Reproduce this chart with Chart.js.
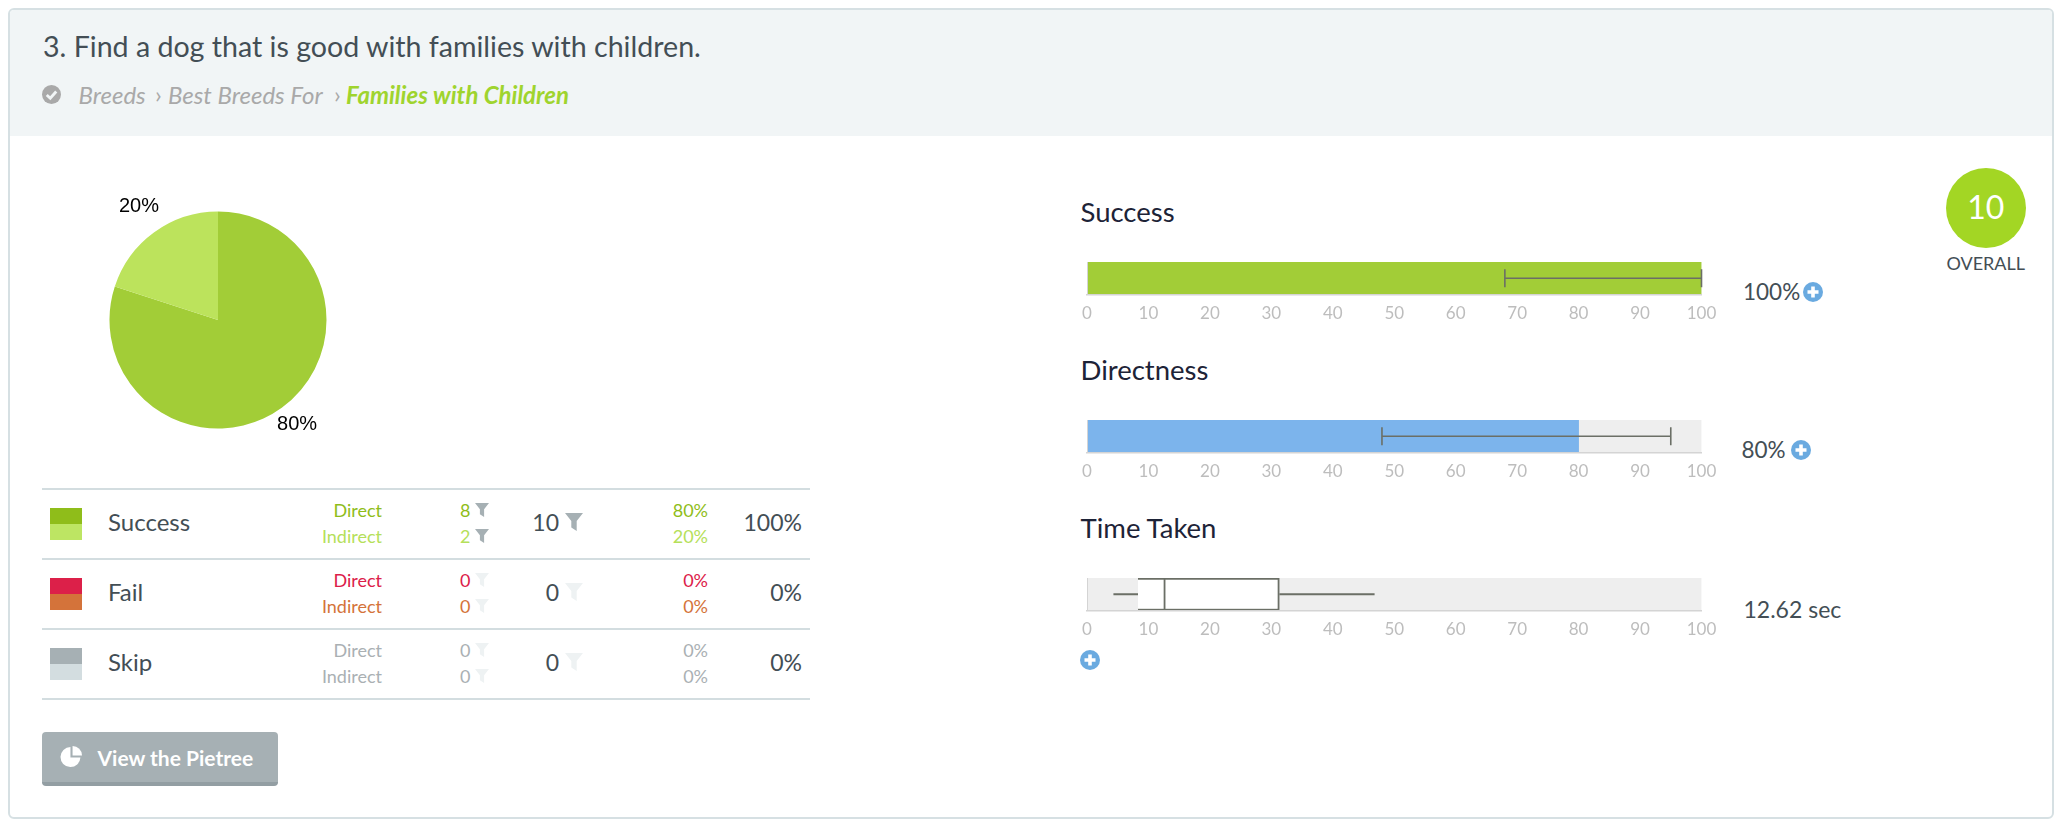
<!DOCTYPE html>
<html>
<head>
<meta charset="utf-8">
<title>Task 3</title>
<script src="https://cdn.jsdelivr.net/npm/chart.js@4"></script>
<style>
  html, body { margin: 0; padding: 0; background: #fff; overflow: hidden; }
  body { width: 2068px; height: 828px; position: relative; font-family: Lato, sans-serif; color: #434e55; }
  .card { position: absolute; left: 8px; top: 8px; width: 2046px; height: 811px; border: 2px solid #d6e0e3; border-radius: 6px; box-sizing: border-box; overflow: hidden; }
  .head { position: absolute; left: 0; top: 0; right: 0; height: 126px; background: #f1f5f6; }
  .t { position: absolute; white-space: nowrap; line-height: 1; transform: translateY(-50%); }
  .r { transform: translate(-100%, -50%); }
  .c { transform: translate(-50%, -50%); }
  .rule { position: absolute; left: 42px; width: 768px; height: 2px; background: #d3dde0; }
  .sw { position: absolute; left: 50px; width: 32px; height: 16px; }
  canvas { position: absolute; }
  svg { position: absolute; overflow: visible; }
  .btn { position: absolute; left: 42px; top: 732px; width: 236px; height: 54px; background: #a6b0b4; border-bottom: 4px solid #939ea3; border-radius: 4px; box-sizing: border-box; }
  .ring { position: absolute; left: 1946px; top: 168px; width: 80px; height: 80px; border-radius: 50%; background: #a3d624; }
</style>
</head>
<body>
<div class="card"><div class="head"></div></div>
<div class="btn"></div>
<div class="ring"></div>
<canvas id="pie" width="400" height="300" style="left:18px;top:170px;width:400px;height:300px"></canvas>
<canvas id="success" width="660" height="80" style="left:1067px;top:252px;width:660px;height:80px"></canvas>
<canvas id="directness" width="660" height="80" style="left:1067px;top:410px;width:660px;height:80px"></canvas>
<canvas id="time" width="660" height="80" style="left:1067px;top:568px;width:660px;height:80px"></canvas>
<script>
const pieLabels = ['Direct success', 'Indirect success'];
const pieValues = [80, 20];

const outcomes = ['Success', 'Fail', 'Skip'];
const directCounts = [8, 0, 0];
const indirectCounts = [2, 0, 0];
const totalCounts = [10, 0, 0];
const directPercents = [80, 0, 0];
const indirectPercents = [20, 0, 0];
const totalPercents = [100, 0, 0];

const axisTicks = [0, 10, 20, 30, 40, 50, 60, 70, 80, 90, 100];
const successScore = [100];
const successRange = [68, 100];
const directnessScore = [80];
const directnessRange = [48, 95];
const timeWhiskers = [4.3, 46.8];
const timeBox = [8.3, 31.3];
const timeMedian = 12.62;

const trackColor = '#eeeeee';
const directColors = ['#8fbd1a', '#dc2049', '#a6b0b4'];
const indirectColors = ['#bde563', '#d4733a', '#d3dde0'];
const directText = ['#8fbd1a', '#dc2049', '#aab0b3'];
const indirectText = ['#b5e05a', '#d4733a', '#aab0b3'];

function put(text, x, y, css, cls) {
  const el = document.createElement('div');
  el.className = 't ' + (cls || '');
  el.textContent = text;
  el.style.cssText = 'left:' + x + 'px;top:' + y + 'px;' + css;
  document.body.appendChild(el);
}

function svg(x, y, w, h, inner) {
  const wrap = document.createElement('div');
  wrap.innerHTML = '<svg style="left:' + x + 'px;top:' + y + 'px" width="' + w + '" height="' + h + '" viewBox="0 0 20 20">' + inner + '</svg>';
  document.body.appendChild(wrap.firstChild);
}

function funnel(x, y, size, color) {
  svg(x, y, size, size, '<path d="M0 0H20L13 9V20L7 16V9Z" fill="' + color + '"/>');
}

function plus(cx, cy) {
  svg(cx - 10, cy - 10, 20, 20, '<circle cx="10" cy="10" r="10" fill="#6aaae0"/><path d="M10 4.5V15.5M4.5 10H15.5" stroke="#fff" stroke-width="3.6"/>');
}

// header
put('3. Find a dog that is good with families with children.', 43, 46, 'font-size:28.6px;');
svg(41.5, 84.5, 19, 19, '<circle cx="10" cy="10" r="10" fill="#a9a9a9"/><path d="M5 10.5L8.7 14L15 6.8" fill="none" stroke="#f1f5f6" stroke-width="3"/>');
const crumb = 'font-size:24px;font-style:italic;color:#a9a9a9;';
put('Breeds', 78.5, 95, crumb);
put('\u203a', 155, 94, 'font-size:24px;color:#a9a9a9;');
put('Best Breeds For', 168, 95, crumb);
put('\u203a', 334, 94, 'font-size:24px;color:#a9a9a9;');
put('Families with Children', 346, 95, crumb + 'font-weight:700;color:#9fd42e;');

// results table
[489, 559, 629, 699].forEach(y => {
  const rule = document.createElement('div');
  rule.className = 'rule';
  rule.style.top = (y - 1) + 'px';
  document.body.appendChild(rule);
});
outcomes.forEach((name, i) => {
  const top = 489 + i * 70;
  const sw1 = document.createElement('div');
  sw1.className = 'sw';
  sw1.style.cssText = 'top:' + (top + 19) + 'px;background:' + directColors[i];
  const sw2 = document.createElement('div');
  sw2.className = 'sw';
  sw2.style.cssText = 'top:' + (top + 35) + 'px;background:' + indirectColors[i];
  document.body.append(sw1, sw2);
  const on = '#a6b0b4';
  const off = '#eef2f3';
  const small = 'font-size:18px;';
  const big = 'font-size:23px;';
  put(name, 108, top + 32.5, 'font-size:24px;');
  put('Direct', 382, top + 20.5, small + 'color:' + directText[i], 'r');
  put('Indirect', 382, top + 46.5, small + 'color:' + indirectText[i], 'r');
  put(directCounts[i], 460, top + 20.5, small + 'color:' + directText[i]);
  put(indirectCounts[i], 460, top + 46.5, small + 'color:' + indirectText[i]);
  funnel(475, top + 14, 14, directCounts[i] ? on : off);
  funnel(475, top + 40, 14, indirectCounts[i] ? on : off);
  put(totalCounts[i], 559, top + 32.5, big, 'r');
  funnel(565, top + 24, 18, totalCounts[i] ? on : off);
  put(directPercents[i] + '%', 708, top + 20.5, small + 'color:' + directText[i], 'r');
  put(indirectPercents[i] + '%', 708, top + 46.5, small + 'color:' + indirectText[i], 'r');
  put(totalPercents[i] + '%', 802, top + 32.5, big, 'r');
});

// button
svg(61, 746, 21, 21, '<path d="M9 1A9.5 9.5 0 1 0 18.5 11H9Z" fill="#fff"/><path d="M11 0A9 9 0 0 1 20 9H11Z" fill="#fff"/>');
put('View the Pietree', 97.5, 757, 'font-size:21px;font-weight:700;color:#fff;');

// right column labels
const heading = 'font-size:27.5px;color:#1d2337;';
put('Success', 1080.5, 212, heading);
put('Directness', 1080.5, 370, heading);
put('Time Taken', 1080.5, 528, heading);
const value = 'font-size:22.5px;';
put('100%', 1743, 292, value);
plus(1813, 292);
put('80%', 1741.5, 450, value);
plus(1800.5, 450);
put('12.62 sec', 1743.5, 608.5, 'font-size:23px;');
plus(1089.6, 660);
put('10', 1985.7, 206.5, 'font-size:32px;color:#fff;', 'c');
put('OVERALL', 1985.7, 263, 'font-size:18px;', 'c');

// pie labels sit just outside the slices
const pieLabelPlugin = {
  id: 'pieLabelPlugin',
  afterDatasetsDraw(chart) {
    const { ctx } = chart;
    const total = pieValues.reduce((a, b) => a + b, 0);
    ctx.save();
    ctx.font = '20px "Liberation Sans"';
    ctx.fillStyle = '#000';
    ctx.textAlign = 'center';
    ctx.textBaseline = 'middle';
    chart.getDatasetMeta(0).data.forEach((arc, i) => {
      const mid = (arc.startAngle + arc.endAngle) / 2;
      const reach = arc.outerRadius + 26;
      const x = arc.x + Math.cos(mid) * reach;
      const y = arc.y + Math.sin(mid) * reach - 4.5;
      ctx.fillText(Math.round(pieValues[i] / total * 100) + '%', x, y);
    });
    ctx.restore();
  },
};

new Chart(document.getElementById('pie'), {
  type: 'pie',
  data: {
    labels: pieLabels,
    datasets: [{ data: pieValues, backgroundColor: ['#a2cd37', '#bce35c'], borderWidth: 0 }],
  },
  options: {
    responsive: false,
    animation: false,
    layout: { padding: { left: 91.5, right: 91.5, top: 41.5, bottom: 41.5 } },
    plugins: { legend: { display: false }, tooltip: { enabled: false } },
  },
  plugins: [pieLabelPlugin],
});

// error bar over a horizontal bar, placed with the chart's x scale
const rangePlugin = {
  id: 'rangePlugin',
  afterDatasetsDraw(chart, args, opts) {
    if (!opts.range) return;
    const { ctx, scales } = chart;
    const y = (chart.chartArea.top + chart.chartArea.bottom) / 2;
    const x1 = scales.x.getPixelForValue(opts.range[0]);
    const x2 = scales.x.getPixelForValue(opts.range[1]);
    ctx.save();
    ctx.strokeStyle = '#6b6f66';
    ctx.lineWidth = 1.6;
    ctx.beginPath();
    ctx.moveTo(x1, y);
    ctx.lineTo(x2, y);
    ctx.moveTo(x1, y - 9);
    ctx.lineTo(x1, y + 9);
    ctx.moveTo(x2, y - 9);
    ctx.lineTo(x2, y + 9);
    ctx.stroke();
    ctx.restore();
  },
};

// whiskers and median of the time box
const boxPlugin = {
  id: 'boxPlugin',
  afterDatasetsDraw(chart, args, opts) {
    if (!opts.whiskers) return;
    const { ctx, scales, chartArea } = chart;
    const y = (chartArea.top + chartArea.bottom) / 2;
    const px = v => scales.x.getPixelForValue(v);
    ctx.save();
    ctx.strokeStyle = '#6b6f66';
    ctx.lineWidth = 1.8;
    ctx.beginPath();
    ctx.moveTo(px(opts.whiskers[0]), y);
    ctx.lineTo(px(opts.box[0]), y);
    ctx.moveTo(px(opts.box[1]), y);
    ctx.lineTo(px(opts.whiskers[1]), y);
    ctx.moveTo(px(opts.median), chartArea.top);
    ctx.lineTo(px(opts.median), chartArea.bottom);
    ctx.stroke();
    ctx.restore();
  },
};

function meterChart(id, datasets, pluginOpts) {
  return new Chart(document.getElementById(id), {
    type: 'bar',
    data: { labels: [id], datasets },
    options: {
      indexAxis: 'y',
      responsive: false,
      animation: false,
      layout: { padding: { left: 20, right: 25.5, top: 10, bottom: 0 } },
      datasets: { bar: { grouped: false, barPercentage: 1, categoryPercentage: 1 } },
      scales: {
        x: {
          min: 0,
          max: 100,
          afterFit(scale) { scale.height = 37.5; },
          afterBuildTicks(scale) { scale.ticks = axisTicks.map(v => ({ value: v })); },
          grid: { display: false, drawTicks: false },
          border: { display: true, color: '#d4d4d4', width: 1.5, z: 1 },
          ticks: {
            autoSkip: false,
            maxRotation: 0,
            padding: 9,
            color: '#bdbdbd',
            font: { family: 'Lato', size: 17 },
          },
        },
        y: {
          display: true,
          afterFit(scale) { scale.width = 0; },
          grid: { display: false, drawTicks: false },
          border: { display: true, color: '#d4d4d4', width: 1, z: 1 },
          ticks: { display: false },
        },
      },
      plugins: Object.assign({ legend: { display: false }, tooltip: { enabled: false } }, pluginOpts),
    },
    plugins: [rangePlugin, boxPlugin],
  });
}

const fullTrack = [100];

meterChart('success', [
  { data: successScore, backgroundColor: '#a2cd37', order: 1 },
  { data: fullTrack, backgroundColor: trackColor, order: 2 },
], { rangePlugin: { range: successRange } });

meterChart('directness', [
  { data: directnessScore, backgroundColor: '#7cb4ec', order: 1 },
  { data: fullTrack, backgroundColor: trackColor, order: 2 },
], { rangePlugin: { range: directnessRange } });

meterChart('time', [
  { data: [timeBox], backgroundColor: '#fff', borderColor: '#6b6f66', borderWidth: 2, order: 1 },
  { data: fullTrack, backgroundColor: trackColor, order: 2 },
], { boxPlugin: { whiskers: timeWhiskers, box: timeBox, median: timeMedian } });
</script>
</body>
</html>
